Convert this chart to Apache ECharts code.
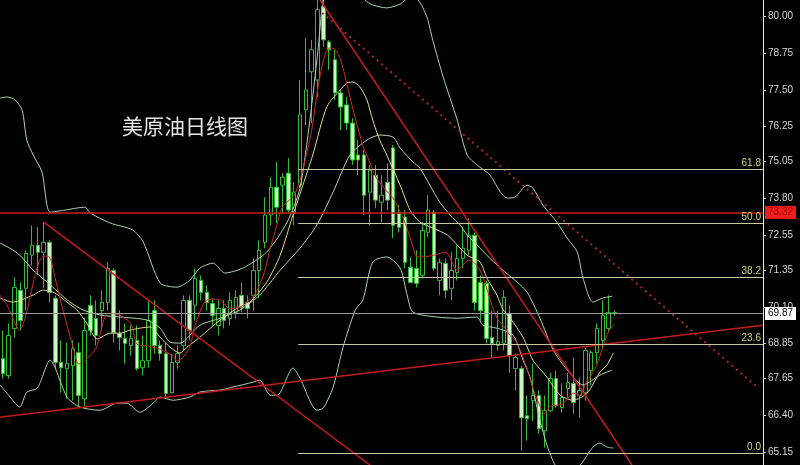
<!DOCTYPE html>
<html>
<head>
<meta charset="utf-8">
<script src="https://cdn.jsdelivr.net/npm/echarts@6/dist/echarts.min.js"></script>
<style>
html,body{margin:0;padding:0;background:#000;}
#chart{width:800px;height:465px;}
</style>
</head>
<body>
<div id="chart"></div>
<script>
// ---- data ----
const days = Array.from({length: 131}, (_, i) => 'D' + (i + 1));
const opens = [68.33,67.75,69.36,70.66,70.73,71.86,72.20,71.96,72.30,70.39,
 68.20,67.99,68.09,68.54,66.96,70.15,69.70,69.97,70.25,71.34,
 69.19,69.02,68.78,68.95,68.02,68.26,69.97,68.78,68.50,67.17,
 68.20,68.78,70.32,70.15,71.00,70.59,70.21,69.46,70.04,69.70,
 69.91,70.49,70.25,70.49,71.34,72.30,73.23,74.18,74.25,74.66,
 73.29,74.25,76.82,78.12,77.84,80.34,79.14,78.53,77.40,76.99,
 76.37,75.28,75.28,74.01,74.59,73.67,74.35,75.52,73.29,73.16,
 71.45,71.41,71.17,72.64,73.33,71.00,71.58,70.73,71.27,71.75,
 72.03,72.54,70.93,70.90,69.05,68.78,68.85,69.87,67.99,67.99,
 66.38,66.90,67.07,65.87,66.55,67.65,66.66,67.31,67.48,67.07,
 67.17,67.92,68.54,68.95,69.36,69.90];
const closes = [67.82,69.12,70.76,69.63,71.92,72.20,71.96,72.30,70.59,68.20,
 68.02,68.16,68.67,67.07,69.29,69.29,69.12,70.25,71.41,69.22,
 69.05,68.85,69.02,67.99,68.26,69.63,68.78,68.50,67.14,68.20,
 68.50,70.32,69.29,71.07,70.59,70.25,69.80,70.04,69.63,70.32,
 70.42,70.08,70.04,71.34,72.03,73.23,74.18,73.50,74.52,73.40,
 74.01,76.65,77.50,78.87,80.24,79.21,78.87,77.40,76.92,76.37,
 75.11,75.11,73.91,74.76,73.74,73.91,73.74,72.88,72.81,71.62,
 70.93,70.90,72.71,73.40,71.41,71.62,70.66,71.34,71.75,72.10,
 72.54,70.25,69.97,69.02,68.85,68.91,70.42,68.43,68.37,66.31,
 66.28,67.07,65.94,66.55,67.65,66.72,67.00,67.51,66.83,67.24,
 68.61,68.54,69.36,69.80,69.91,69.87];
const lows = [67.65,67.65,69.05,69.29,69.97,71.51,71.20,70.73,70.25,67.99,
 67.17,66.96,66.90,66.66,66.66,69.12,68.78,69.29,69.97,68.88,
 68.61,68.16,68.43,67.92,67.75,68.02,68.50,68.26,66.96,67.14,
 67.99,68.61,68.95,69.63,70.32,69.97,69.46,69.12,69.36,69.46,
 69.70,69.91,69.70,69.97,70.39,72.10,72.88,72.95,73.29,73.29,
 72.88,74.15,76.30,76.37,77.26,78.97,78.19,77.16,76.13,76.13,
 74.94,74.59,73.23,72.88,73.46,72.99,73.40,72.44,72.64,71.41,
 70.90,70.76,71.07,72.47,71.34,70.49,70.39,70.32,71.00,71.41,
 71.86,69.97,69.63,68.85,68.37,68.61,68.61,67.85,67.24,65.19,
 65.53,66.21,65.77,65.29,66.50,66.66,66.49,67.00,66.45,66.31,
 66.90,67.41,68.16,68.67,69.22,69.80];
const highs = [69.29,69.53,71.10,70.93,72.03,72.88,72.81,72.99,72.37,70.49,
 68.95,68.88,68.95,68.88,69.73,70.49,70.32,70.66,71.62,71.41,
 69.97,69.53,69.46,69.46,69.12,70.32,70.32,68.95,68.88,68.50,
 68.78,70.49,70.49,71.41,71.17,70.83,70.39,70.32,70.32,70.59,
 70.66,70.93,70.49,71.75,72.37,73.84,74.52,75.04,74.66,75.17,
 74.35,77.84,79.28,79.21,80.85,80.75,79.20,78.87,77.50,77.26,
 76.54,75.79,75.45,74.94,74.94,74.59,75.00,75.62,73.57,73.40,
 71.79,72.03,72.99,73.91,73.40,71.75,71.75,71.96,72.20,72.81,
 73.12,72.64,71.17,71.00,69.97,69.97,70.66,70.15,68.50,68.09,
 67.07,68.16,67.24,67.07,67.85,67.92,67.48,67.85,68.37,67.68,
 68.71,68.61,69.53,70.32,70.49,69.98];

// indicator lines: [bar index, price]
const ma5 = [[-0.5,70.50],[0.7,70.16],[2.9,69.30],[4,69.85],[5,70.74],[6,71.52],[7,71.83],[8,71.80],[9,71.05],[10,70.23],[11,69.47],[12,68.76],[13,68.14],[14,68.25],[16,68.69],[18,69.88],[20,69.82],[22,69.51],[23,68.83],[25,68.76],[27,68.65],[29,68.45],[30,68.25],[32,68.69],[33,69.47],[35,70.33],[37,70.36],[39,70.02],[41,70.12],[43,70.46],[44,70.81],[45,71.35],[46,72.17],[47,72.85],[48,73.50],[50,73.91],[51,74.42],[52,75.21],[53,76.10],[54,77.46],[55,78.49],[56,78.93],[57,78.90],[58,78.52],[59,77.74],[60,76.92],[61,76.17],[62,75.48],[63,75.04],[64,74.53],[66,74.02],[67,73.81],[68,73.43],[69,72.99],[70,72.41],[71,71.83],[72,71.80],[74,71.86],[76,71.97],[78,71.35],[80,71.69],[81,71.59],[82,71.32],[83,70.77],[84,70.12],[85,69.65],[86,69.44],[87,69.13],[88,68.96],[89,68.52],[90,67.97],[91,67.32],[92,66.81],[93,66.44],[94,66.71],[96,66.78],[98,67.15],[99,67.08],[100,67.46],[101,67.77],[102,68.14],[103,68.72],[104,69.27],[105,69.51]];
const ma10 = [[-0.5,70.40],[1.7,70.26],[5.2,70.50],[6.9,70.67],[8.9,70.57],[11.0,70.26],[12.7,69.99],[14.4,69.54],[16.2,69.00],[18.4,69.20],[20.1,69.20],[21.8,69.30],[23.5,69.37],[25.3,69.41],[27.0,69.06],[28.7,68.72],[30.4,68.52],[31.6,68.72],[33.8,69.06],[37.3,69.65],[40.7,70.12],[42.4,70.26],[45.3,70.94],[47.6,71.86],[49.8,73.23],[51.5,74.25],[53.2,75.28],[55.6,76.92],[57.9,77.50],[59.1,77.74],[60.1,77.77],[61.3,77.60],[62.5,77.16],[63.5,76.47],[64.7,75.79],[65.9,75.28],[68.2,74.25],[69.9,73.40],[71.6,72.99],[73.8,72.79],[76.3,72.55],[78.0,72.21],[79.7,71.86],[81.9,71.63],[83.1,71.08],[84.8,70.50],[85.9,69.99],[87.1,69.71],[89.3,69.06],[91.0,68.28],[93.4,67.70],[95.7,67.08],[97.9,66.91],[100.3,67.15],[102.5,67.87],[103.7,68.11],[104.8,68.52]];
const bandUpper = [[-0.5,77.22],[0.7,77.26],[2.1,77.16],[3.3,76.81],[4.1,75.79],[5.2,75.28],[6.7,74.70],[8.1,73.33],[10.7,73.40],[12.7,73.47],[14.1,73.50],[15.0,73.30],[18.4,72.96],[22.3,72.72],[24.1,72.31],[27.0,70.91],[29.9,70.77],[32.1,71.01],[33.8,71.42],[36.1,71.59],[38.1,71.25],[41.2,71.42],[45.3,71.97],[48.8,72.99],[51.0,74.15],[52.7,76.47],[54.1,78.86],[55.3,80.91],[57.9,81.76],[60.5,81.25],[62.2,80.57],[63.5,80.40],[65.9,80.30],[68.2,80.43],[69.9,80.67],[71.3,80.57],[72.8,79.99],[73.8,79.20],[75.6,77.94],[78.0,76.47],[79.7,75.28],[81.4,74.94],[83.6,74.60],[85.4,74.02],[86.6,73.81],[87.9,73.84],[90.0,74.25],[91.0,74.15],[92.7,73.57],[95.1,72.99],[96.9,72.44],[98.6,71.97],[99.6,71.08],[101.3,70.26],[103.0,70.40],[104.6,70.46]];
const bandMiddle = [[-0.5,72.27],[1.2,72.10],[2.9,71.86],[5.2,71.35],[7.6,70.94],[9.5,70.60],[11.5,70.26],[13.8,69.99],[16.7,69.82],[20.1,69.75],[24.7,69.65],[27.0,69.37],[28.7,68.89],[30.4,68.86],[33.8,69.47],[37.3,69.71],[40.7,69.99],[44.1,70.50],[47.6,71.35],[51.0,72.10],[53.9,72.89],[56.7,74.02],[59.6,75.28],[62.5,75.79],[64.7,75.96],[67.0,75.89],[68.2,75.52],[70.4,75.04],[71.6,74.83],[73.3,74.25],[75.0,73.67],[76.8,73.23],[78.5,72.89],[79.7,72.55],[81.4,72.21],[83.1,71.86],[85.4,71.42],[88.3,70.94],[90.0,70.60],[92.2,69.71],[94.5,68.62],[96.9,67.94],[99.6,67.43],[102.5,67.77],[104.6,67.94]];
const bandLower = [[-0.5,67.43],[0.7,67.15],[2.9,66.68],[4.1,67.19],[5.9,67.32],[8.1,68.28],[11.0,67.02],[13.2,66.68],[16.7,66.57],[19.6,66.81],[21.3,66.81],[23.5,66.50],[25.8,66.81],[27.0,67.02],[29.2,66.91],[32.1,67.02],[33.8,67.19],[37.3,67.26],[39.5,67.36],[43.0,67.53],[44.1,67.60],[45.9,67.08],[47.1,67.08],[49.8,68.01],[51.0,67.67],[53.9,66.57],[55.0,66.64],[56.7,67.36],[58.4,68.72],[60.5,69.99],[61.8,70.33],[63.5,71.63],[65.9,71.80],[68.2,71.42],[69.4,70.50],[70.4,69.92],[74.5,69.75],[78.0,69.71],[81.4,69.75],[82.4,69.47],[84.8,69.37],[87.6,69.13],[89.3,68.28],[90.5,67.70],[92.2,66.23],[93.4,65.38],[94.8,64.70],[96.5,64.35],[99.1,64.70],[101.3,65.31],[102.5,65.45],[103.7,65.31],[104.8,65.28]];

// trend lines: [bar index, price]
const trendPeak = [[54.45, 80.57], [108.0, 64.70]];
const trendDotted = [[54.8, 80.13], [129.5, 67.36]];
const trendLeft = [[7, 72.99], [63.03, 64.70]];
const trendSupport = [[-0.5, 66.33], [130.5, 69.47]];

const fibStart = 50.7, fibEnd = 130.5;
const fibLabels = ['0.0', '23.6', '38.2', '50.0', '61.8'];
const fibValues = [65.10, 68.81, 71.10, 72.95, 74.80];
const resistance = 73.32;
const lastPrice = 69.87;
const yTicks = [80.00, 78.75, 77.50, 76.25, 75.05, 73.80, 72.55, 71.35, 70.10, 68.85, 67.65, 66.40, 65.15];

// ---- chart ----
const candles = opens.map((o, i) => [o, closes[i], lows[i], highs[i]]);
const lineSeries = (data, color, width, extra) => Object.assign({
  type: 'line', xAxisIndex: 1, yAxisIndex: 0, data: data, symbol: 'none',
  smooth: 0.25, silent: true, lineStyle: {color: color, width: width}
}, extra || {});

const chart = echarts.init(document.getElementById('chart'));
chart.setOption({
  backgroundColor: '#000',
  animation: false,
  title: {
    text: '美原油日线图', left: 117, top: 111,
    textStyle: {color: '#e4e4e4', fontSize: 21, fontWeight: 'normal', fontFamily: '"Noto Sans CJK SC", sans-serif'}
  },
  grid: {left: 0, right: 37, top: 0, bottom: 0},
  xAxis: [
    {type: 'category', data: days, boundaryGap: true, show: false, axisLine: {show: false, onZero: false}},
    {type: 'value', min: -0.5, max: 130.5, show: false, axisLine: {show: false, onZero: false}}
  ],
  yAxis: {
    type: 'value', position: 'right', min: 64.70, max: 80.57, scale: true,
    axisLine: {show: true, onZero: false, lineStyle: {color: '#e8e8e8', width: 1}},
    axisTick: {show: true, length: 3, lineStyle: {color: '#cccccc'}, customValues: yTicks},
    axisLabel: {
      show: true, customValues: yTicks, formatter: v => v.toFixed(2),
      color: '#d6d6d6', fontSize: 10, fontFamily: '"Liberation Sans", Arial, sans-serif', margin: 5
    },
    splitLine: {show: false}
  },
  series: [
    {
      type: 'candlestick', xAxisIndex: 0, yAxisIndex: 0, data: candles, barWidth: 4,
      itemStyle: {color: '#000000', color0: '#c8f8c0', borderColor: '#33bb33', borderColor0: '#33bb33', borderWidth: 1},
      markLine: {
        symbol: ['none', 'none'], silent: true, animation: false,
        data: [
          {yAxis: resistance, lineStyle: {color: '#c81e1e', width: 1.5, type: 'solid'},
           label: {show: true, position: 'end', distance: 2, formatter: resistance.toFixed(2),
                   backgroundColor: '#ee1c1c', color: '#a80000', padding: [2, 3, 1, 3], fontSize: 10,
                   fontFamily: '"Liberation Sans", Arial, sans-serif'}},
          {yAxis: lastPrice, lineStyle: {color: '#9a9a9a', width: 1, type: 'solid'},
           label: {show: true, position: 'end', distance: 2, formatter: lastPrice.toFixed(2),
                   backgroundColor: '#ffffff', color: '#000000', padding: [2, 3, 1, 3], fontSize: 10,
                   fontFamily: '"Liberation Sans", Arial, sans-serif'}}
        ]
      }
    },
    lineSeries(bandUpper, '#a8d4b4', 1),
    lineSeries(bandMiddle, '#b4d8ac', 1),
    lineSeries(bandLower, '#a8d4b4', 1),
    lineSeries(ma10, '#e6dc8c', 1),
    lineSeries(ma5, '#cc2a2a', 1),
    lineSeries(trendLeft, '#c41c1c', 1.5, {smooth: false}),
    lineSeries(trendPeak, '#c41c1c', 1.5, {smooth: false}),
    lineSeries(trendDotted, '#a82828', 2, {smooth: false, lineStyle: {color: '#a82828', width: 2, type: [2, 4]}}),
    lineSeries(trendSupport, '#c41c1c', 1.5, {
      smooth: false,
      markLine: {
        symbol: ['none', 'none'], silent: true, animation: false,
        data: fibValues.map((v, k) => [
          {coord: [fibStart, v], lineStyle: {color: '#c8c8a0', width: 1, type: 'solid'},
           label: {show: true, position: 'insideEndTop', formatter: fibLabels[k], distance: [2, 1],
                   color: '#d2d27a', fontSize: 10, fontFamily: '"Liberation Sans", Arial, sans-serif'}},
          {coord: [fibEnd, v]}
        ])
      }
    })
  ]
});
</script>
</body>
</html>
